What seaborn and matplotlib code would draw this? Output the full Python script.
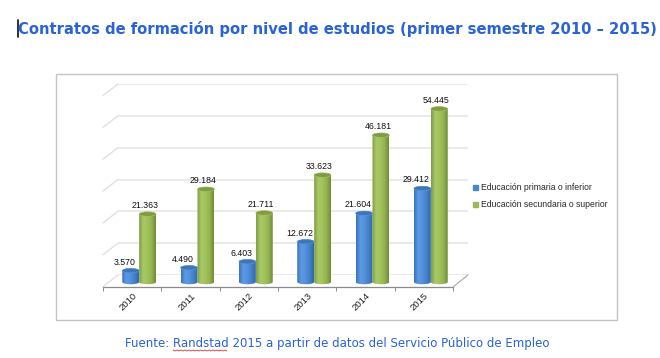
import matplotlib.pyplot as plt
import matplotlib.colors as mcolors
import numpy as np
import pandas as pd
import seaborn as sns
from matplotlib.lines import Line2D
from matplotlib.patches import Ellipse, Rectangle
from matplotlib.path import Path
from matplotlib.transforms import Affine2D

years = ["2010", "2011", "2012", "2013", "2014", "2015"]
primaria = [3570, 4490, 6403, 12672, 21604, 29412]
secundaria = [21363, 29184, 21711, 33623, 46181, 54445]
series = ["Educación primaria o inferior", "Educación secundaria o superior"]
wall_ticks = [0, 10000, 20000, 30000, 40000, 50000, 60000]

W, H = 660, 358
BLUE = "#4a86d0"
GREEN = "#9aba59"
TITLE = "#2a62d8"

sns.set_style("white")
plt.rcParams["font.family"] = ["DejaVu Sans"]

fig = plt.figure(figsize=(W / 100, H / 100), dpi=100, facecolor="white")
px = Affine2D().scale(1 / W, -1 / H).translate(0, 1) + fig.transFigure


def px_axes(left, top, right, bottom):
    return fig.add_axes(
        [left / W, 1 - bottom / H, (right - left) / W, (bottom - top) / H]
    )


# card behind the chart
fig.add_artist(
    Rectangle((56, 74), 561, 246, transform=px, fc="white", ec="#c4c4c4", lw=1, zorder=-1)
)

# back wall with the gridlines
wall = px_axes(118, 84, 468, 275)
wall.set_xlim(0, 1)
wall.set_ylim(0, 60000)
wall.set_yticks(wall_ticks)
wall.set_xticks([])
wall.tick_params(left=False, labelleft=False)
wall.grid(axis="y", color="#e6e6e6", lw=1.2)
sns.despine(ax=wall, left=True, bottom=True)
wall.patch.set_alpha(0)

# side wall diagonals
for y in np.linspace(84, 275, 7):
    fig.add_artist(
        Line2D([118, 103], [y, y + 11.5], transform=px, color="#e0e0e0", lw=1)
    )
fig.add_artist(Line2D([453, 468], [287, 275], transform=px, color="#a8a8a8", lw=0.8))

# front edge of the floor, carries the year labels
floor = px_axes(103, 280, 453, 287)
floor.set_xlim(-0.5, 5.5)
floor.set_ylim(0, 1)
floor.patch.set_alpha(0)
floor.set_yticks([])
floor.set_xticks(np.arange(-0.5, 6, 1), minor=True)
floor.set_xticks(range(6))
floor.set_xticklabels(
    years, rotation=45, ha="right", rotation_mode="anchor",
    fontsize=6.8, family="Liberation Sans", color="#202020",
)
floor.tick_params(axis="x", which="major", length=0, pad=3)
floor.tick_params(axis="x", which="minor", length=3, width=0.7, color="#8a8a8a", bottom=True)
sns.despine(ax=floor, left=True)
floor.spines["bottom"].set_color("#8a8a8a")
floor.spines["bottom"].set_linewidth(0.9)

# plane of the bars
df = pd.DataFrame(
    {
        "year": years * 2,
        "value": primaria + secundaria,
        "serie": [series[0]] * 6 + [series[1]] * 6,
    }
)
ax = px_axes(110, 60, 460, 292)
UNIT = 1 / 0.00318  # data units per pixel
ax.patch.set_alpha(0)
sns.barplot(
    df, x="year", y="value", hue="serie", hue_order=series,
    palette=[BLUE, GREEN], width=0.58, gap=0, saturation=1, legend=False, ax=ax,
)
ylim = (-10 * UNIT, 222 * UNIT)

cmaps = [
    mcolors.LinearSegmentedColormap.from_list(
        "b", ["#3a73b8", "#5c9be4", "#5391dc", "#4580c8", "#2f67aa"]
    ),
    mcolors.LinearSegmentedColormap.from_list(
        "g", ["#7d9c44", "#a9c966", "#a3c25e", "#93b350", "#708c38"]
    ),
]
tops = ["#3f75b5", "#7f9c45"]
shift = [-6, -3]
cap = 4.5 * UNIT  # full height of the ellipse in data units
t = np.linspace(0, np.pi, 40)
for k, container in enumerate(ax.containers):
    for bar in container:
        x0, w, h = bar.get_x(), bar.get_width(), bar.get_height()
        bar.set_visible(False)
        xs = x0 + w / 2 + w / 2 * np.cos(t)
        verts = np.r_[
            np.c_[xs, h + np.sin(t) * cap / 2],
            np.c_[xs[::-1], -np.sin(t[::-1]) * cap / 2],
            [[xs[0], h]],
        ]
        im = ax.imshow(
            np.linspace(0, 1, 64).reshape(1, -1), cmap=cmaps[k], aspect="auto",
            extent=(x0, x0 + w, -cap, h + cap), zorder=3 + 0.1 * k,
        )
        im.set_clip_path(Path(verts), ax.transData)
        ax.add_patch(
            Ellipse((x0 + w / 2, h), w, cap, fc=tops[k], ec=cmaps[k](0.3), lw=0.4, zorder=3.5 + 0.1 * k)
        )
        ax.annotate(
            f"{int(h):,}".replace(",", "."), (x0 + w / 2, h), xytext=(shift[k], 4),
            textcoords="offset pixels", ha="center", va="bottom", fontsize=6.3,
            family="Liberation Sans", color="#111111", zorder=6,
        )
ax.set_xlim(-0.5, 5.5)
ax.set_ylim(*ylim)
ax.axis("off")

# legend
handles = [
    Line2D([], [], ls="", marker="s", ms=3.6, color=c) for c in (BLUE, GREEN)
]
fig.legend(
    handles, series, loc="center left", bbox_to_anchor=(471 / W, 1 - 196 / H),
    frameon=False, handletextpad=0.15, labelspacing=0.85, handlelength=1,
    borderpad=0, borderaxespad=0,
    prop={"family": "Liberation Sans", "size": 6.2},
)

# title and source line
fig.text(18 / W, 1 - 29 / H, "Contratos de formación por nivel de estudios (primer semestre 2010 – 2015)",
         color=TITLE, fontsize=10.6, fontweight="bold", va="center", ha="left")
fig.add_artist(Line2D([18, 18], [20, 37], transform=px, color="#222222", lw=1.3))
fig.text(337 / W, 1 - 344 / H, "Fuente: Randstad 2015 a partir de datos del Servicio Público de Empleo",
         color=TITLE, fontsize=8.5, va="center", ha="center")
# spell-check squiggle under Randstad
sq_x = np.arange(173, 229, 2)
sq_y = 350 + np.arange(len(sq_x)) % 2
fig.add_artist(Line2D(sq_x, sq_y, transform=px, color="#e03030", lw=0.6))

fig.savefig("out.png", dpi=100)
